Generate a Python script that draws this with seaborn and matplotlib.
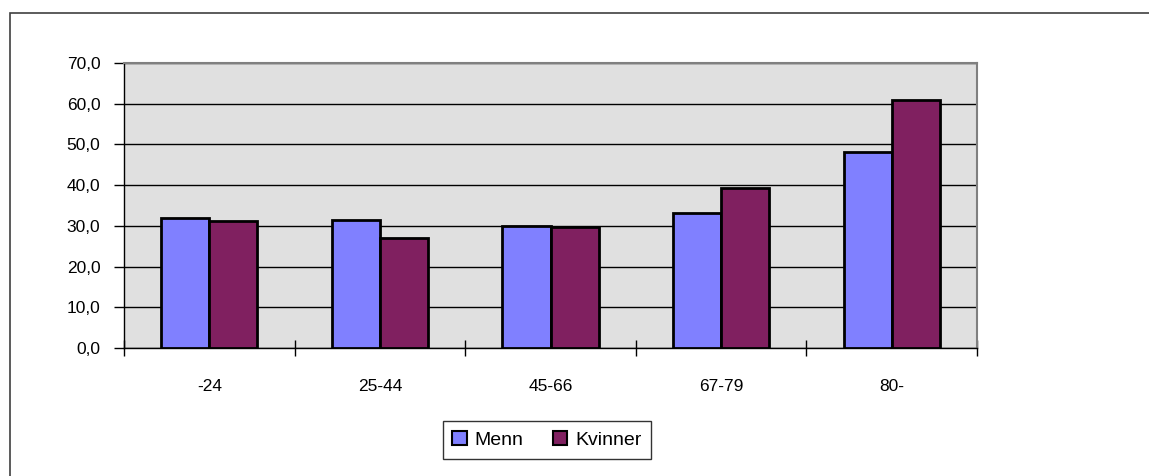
import matplotlib
matplotlib.use("Agg")
import matplotlib.pyplot as plt
import seaborn as sns
import pandas as pd
from matplotlib.patches import Rectangle, Patch

categories = ["-24", "25-44", "45-66", "67-79", "80-"]
menn = [32.0, 31.4, 30.0, 33.1, 48.2]
kvinner = [31.2, 27.1, 29.7, 39.4, 60.9]
series_names = ["Menn", "Kvinner"]
y_ticks = [0, 10, 20, 30, 40, 50, 60, 70]

df = pd.DataFrame({
    "cat": categories * 2,
    "val": menn + kvinner,
    "series": [series_names[0]] * len(categories) + [series_names[1]] * len(categories),
})

sns.set_style("white")
plt.rcParams['font.family'] = ['Liberation Sans', 'DejaVu Sans']
plt.rcParams['text.color'] = 'black'
plt.rcParams['xtick.color'] = 'black'
plt.rcParams['ytick.color'] = 'black'

W, H = 1149, 476
fig = plt.figure(figsize=(W / 100, H / 100), dpi=100)
fig.patch.set_facecolor("white")

# outer border (top and left visible)
fig.patches.append(Rectangle((10 / W, -0.1), 1.2, 1 - 13 / H + 0.1, transform=fig.transFigure,
                             fill=False, edgecolor="#404040", linewidth=1.2))

ax = fig.add_axes([124 / W, (H - 348) / H, (977 - 124) / W, (348 - 63) / H])
ax.set_facecolor("#E0E0E0")

colors = ["#8080FF", "#802060"]
sns.barplot(data=df, x="cat", y="val", hue="series", palette=colors, ax=ax, saturation=1,
            width=0.565, gap=0, edgecolor="black", linewidth=2, legend=False, zorder=3)

ax.set_ylim(0, 70)
ax.set_xlim(-0.5, 4.5)
ax.set_yticks(y_ticks)
ax.set_yticklabels([f"{v:.1f}".replace(".", ",") for v in y_ticks], fontsize=12.5)
ax.yaxis.grid(True, color="black", linewidth=1)
ax.set_axisbelow(True)
ax.set_xlabel("")
ax.set_ylabel("")

# x ticks at boundaries, labels at centres
ax.set_xticks([i - 0.5 for i in range(len(categories) + 1)])
ax.set_xticklabels([])
ax.set_xticks(range(len(categories)), minor=True)
ax.set_xticklabels(categories, minor=True, fontsize=12.5)
ax.tick_params(axis="x", which="major", direction="inout", length=12, width=1, color="black", bottom=True)
ax.tick_params(axis="x", which="minor", length=0, pad=22)
ax.tick_params(axis="y", direction="out", length=7, width=1, color="black", left=True, pad=10)

for s in ["top", "right"]:
    ax.spines[s].set_color("#808080")
    ax.spines[s].set_linewidth(1.5)
for s in ["left", "bottom"]:
    ax.spines[s].set_color("black")
    ax.spines[s].set_linewidth(1)

handles = [Patch(facecolor=c, edgecolor="black", linewidth=1.5) for c in colors]
leg = fig.legend(handles, series_names, loc="center", bbox_to_anchor=(547 / W, 1 - 440 / H),
                 ncol=2, frameon=True, fancybox=False, edgecolor="black", fontsize=14,
                 handlelength=0.75, handleheight=0.75, handletextpad=0.4, columnspacing=1.5,
                 borderpad=0.5, borderaxespad=0)
leg.get_frame().set_linewidth(1)

fig.savefig("out.png", dpi=100)
